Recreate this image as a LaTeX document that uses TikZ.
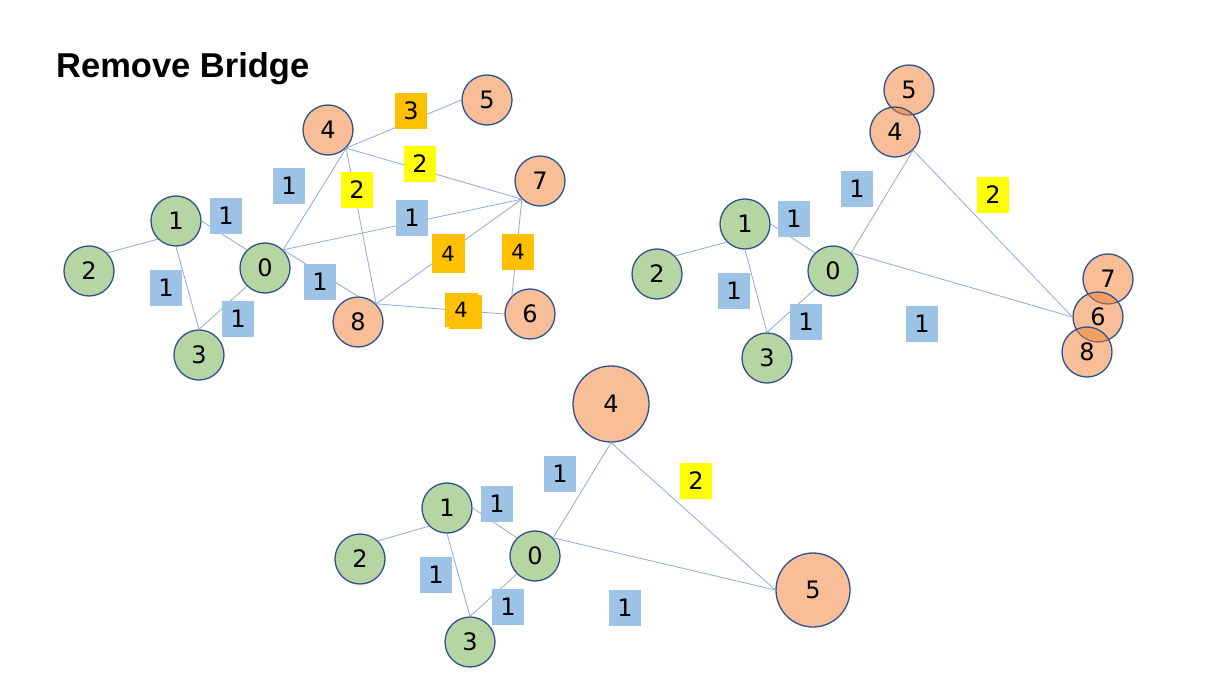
\documentclass[tikz,border=0pt]{standalone}
\usepackage{fontspec}
\newfontfamily\dv{DejaVu Sans}
\newfontfamily\lib{Liberation Sans}
\definecolor{nstroke}{HTML}{2F528F}
\definecolor{gfill}{HTML}{B5D5A2}
\definecolor{ofill}{HTML}{F17F31}
\definecolor{lblue}{HTML}{9DC3E6}
\definecolor{lyel}{HTML}{FFFF00}
\definecolor{lorg}{HTML}{FFC000}
\definecolor{ecol}{HTML}{8FAADC}
\tikzset{
  gnode/.style={circle, draw=nstroke, line width=1.3pt, fill=gfill, minimum size=50pt, inner sep=0pt,
    font=\dv\fontsize{24}{28}\selectfont},
  onode/.style={circle, draw=nstroke, line width=1.3pt, fill=ofill, fill opacity=0.5, text opacity=1,
    minimum size=50pt, inner sep=0pt, font=\dv\fontsize{24}{28}\selectfont},
  wbox/.style={rectangle, minimum width=32pt, minimum height=36pt, inner sep=0pt,
    font=\dv\fontsize{24}{28}\selectfont},
  bbox/.style={wbox, fill=lblue},
  ybox/.style={wbox, fill=lyel},
  obox/.style={wbox, fill=lorg},
  osmall/.style={obox, font=\dv\fontsize{21}{25}\selectfont},
  edge/.style={draw=ecol, line width=0.8pt}
}
\begin{document}
\begin{tikzpicture}[x=1pt,y=-1pt]
\fill[white] (0,0) rectangle (1219,687);
\useasboundingbox (0,0) rectangle (1219,687);

\node[anchor=base west, inner sep=0pt, font=\lib\bfseries\fontsize{34.5}{40}\selectfont] (title) at (56,78) {Remove Bridge};

% ---------- graph 1 ----------
\node[gnode] (a1) at (176,221) {1};
\node[gnode] (a2) at (89,271) {2};
\node[gnode] (a0) at (265,268) {0};
\node[gnode] (a3) at (199,355) {3};
\node[onode] (a4) at (328,130) {4};
\node[onode] (a5) at (487,100) {5};
\node[onode] (a7) at (540,181) {7};
\node[onode] (a6) at (530,314) {6};
\node[onode] (a8) at (358,322) {8};

\draw[edge] (a2.north east) -- (a1.south west);
\draw[edge] (a1.east) -- (a0.north west);
\draw[edge] (a1.south) -- (a3.north);
\draw[edge] (a0.south west) -- (a3.north);
\draw[edge] (a0.north east) -- (a4.south east);
\draw[edge] (a0.north east) -- (a7.south west);
\draw[edge] (a0.north east) -- (a8.north);
\draw[edge] (a4.south east) -- (a5.west);
\draw[edge] (a4.south east) -- (a7.south west);
\draw[edge] (a4.south east) -- (a8.north east);
\draw[edge] (a8.north east) -- (a7.south west);
\draw[edge] (a8.north east) -- (a6.west);
\draw[edge] (a7.south west) -- (a6.north west);

\node[bbox] (la1) at (226,216) {1};
\node[bbox] (la2) at (289,186) {1};
\node[ybox] (la3) at (357,190) {2};
\node[ybox] (la4) at (420,164) {2};
\node[obox] (la5) at (411,111) {3};
\node[bbox] (la6) at (412,218) {1};
\node[osmall, minimum height=39pt, minimum width=33pt] (la7) at (448,254) {4};
\node[osmall] (la8) at (518,252) {4};
\node[obox, minimum width=33pt, minimum height=34pt] (la9b) at (465,312) {};
\node[osmall, minimum width=33pt, minimum height=34pt] (la9) at (461,310) {4};
\node[bbox] (la10) at (320,282) {1};
\node[bbox] (la11) at (166,288) {1};
\node[bbox] (la12) at (238,319) {1};

% ---------- graph 2 ----------
\node[gnode] (b1) at (745,224) {1};
\node[gnode] (b2) at (657,274) {2};
\node[gnode] (b0) at (833,271) {0};
\node[gnode] (b3) at (767,358) {3};
\node[onode] (b5) at (909,90) {5};
\node[onode] (b4) at (895,132) {4};
\node[onode] (b7) at (1108,279) {7};
\node[onode] (b6) at (1098,317) {6};
\node[onode] (b8) at (1087,352) {8};

\draw[edge] (b2.north east) -- (b1.south west);
\draw[edge] (b1.east) -- (b0.north west);
\draw[edge] (b1.south) -- (b3.north);
\draw[edge] (b0.south west) -- (b3.north);
\draw[edge] (b0.north east) -- (b4.south east);
\draw[edge] (b4.south east) -- (b6.west);
\draw[edge] (b0.north east) -- (b6.west);

\node[bbox] (lb1) at (794,219) {1};
\node[bbox] (lb2) at (857,189) {1};
\node[ybox] (lb3) at (993,195) {2};
\node[bbox] (lb4) at (734,291) {1};
\node[bbox] (lb5) at (806,322) {1};
\node[bbox] (lb6) at (922,324) {1};

% ---------- graph 3 ----------
\node[gnode] (c1) at (447,508) {1};
\node[gnode] (c2) at (360,559) {2};
\node[gnode] (c0) at (535,556) {0};
\node[gnode] (c3) at (470,642) {3};
\node[onode, minimum size=76pt] (c4) at (611,404) {4};
\node[onode, minimum size=74pt] (c5) at (813,590) {5};

\draw[edge] (c2.north east) -- (c1.south west);
\draw[edge] (c1.east) -- (c0.north west);
\draw[edge] (c1.south) -- (c3.north);
\draw[edge] (c0.south west) -- (c3.north);
\draw[edge] (c0.north east) -- (c4.south);
\draw[edge] (c4.south) -- (c5.west);
\draw[edge] (c0.north east) -- (c5.west);

\node[bbox] (lc1) at (497,504) {1};
\node[bbox] (lc2) at (560,474) {1};
\node[ybox] (lc3) at (696,481) {2};
\node[bbox] (lc4) at (436,575) {1};
\node[bbox] (lc5) at (508,607) {1};
\node[bbox] (lc6) at (625,608) {1};
\end{tikzpicture}
\end{document}
